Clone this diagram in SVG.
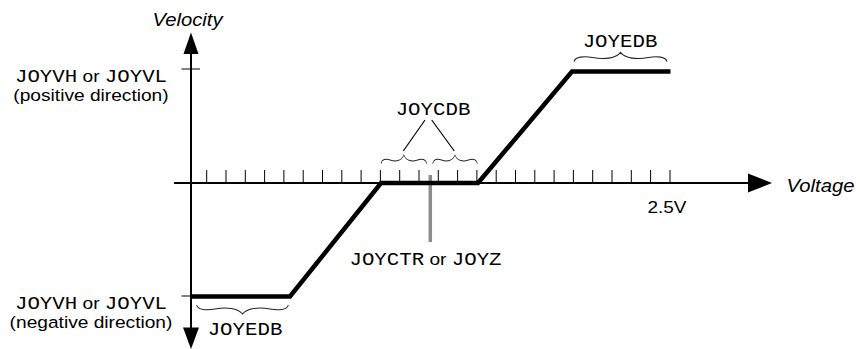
<svg xmlns="http://www.w3.org/2000/svg" width="860" height="349" viewBox="0 0 860 349">
<style>
.sans{font-family:"Liberation Sans",Arial,sans-serif;font-size:16.8px;fill:#000}
.ital{font-family:"Liberation Sans",Arial,sans-serif;font-size:18.6px;font-style:italic;fill:#000}
.mono{font-family:"Liberation Mono","Courier New",monospace;font-size:18.2px;font-weight:normal}
.axis{stroke:#000;stroke-width:2;fill:none}
.tick{stroke:#000;stroke-width:1;fill:none}
.curve{stroke:#000;stroke-width:4.5;fill:none;stroke-linejoin:miter}
.brace{stroke:#222;stroke-width:1.1;fill:none}
.lead{stroke:#000;stroke-width:1.2;fill:none}
.head{fill:#000}
</style>
<defs>
<path id="bracePath" d="M0,0 C1,-5 11,-5.5 20,-4 C32,-2 45,-3 50,-9 C55,-3 68,-2 80,-4 C89,-5.5 99,-5 100,0"/>
</defs>
<g id="axes">
<line class="axis" x1="191" y1="53" x2="191" y2="329"/>
<line class="axis" x1="174" y1="183" x2="750" y2="183"/>
<polygon class="head" points="191,32.5 183.5,54 198.5,54"/>
<polygon class="head" points="191,349 183,327.5 199,327.5"/>
<polygon class="head" points="772,183 748,173.5 748,192.5"/>
<line class="tick" x1="181.5" y1="69" x2="200" y2="69"/>
<line class="tick" x1="181.5" y1="296" x2="191" y2="296"/>
</g>
<g id="ticks">
<path class="tick" d="M206.7,170V182M226,170V182M245.3,170V182M264.6,170V182M283.9,170V182M303.2,170V182M322.5,170V182M341.8,170V182M361.1,170V182M380.4,170V182M399.7,170V182M419,170V182M438.3,170V182M457.6,170V182M476.9,170V182M496.2,170V182M515.5,170V182M534.8,170V182M554.1,170V182M573.4,170V182M592.7,170V182M612,170V182M631.3,170V182M650.6,170V182M670,170V182"/>
</g>
<g id="center-marker">
<line x1="430.3" y1="175" x2="430.3" y2="242" stroke="#8c8c8c" stroke-width="3.5"/>
</g>
<g id="curve">
<polyline class="curve" points="191,296.5 290,296.5 381,183 478,183 572,71.5 670.5,71.5"/>
</g>
<g id="braces">
<use href="#bracePath" class="brace" vector-effect="non-scaling-stroke" transform="translate(381,164) scale(0.457,1)"/>
<use href="#bracePath" class="brace" vector-effect="non-scaling-stroke" transform="translate(432.7,164) scale(0.446,1)"/>
<use href="#bracePath" class="brace" vector-effect="non-scaling-stroke" transform="translate(574,61.7) scale(0.93,1.04)"/>
<use href="#bracePath" class="brace" vector-effect="non-scaling-stroke" transform="translate(196.7,305) scale(0.916,-1)"/>
</g>
<g id="leaders">
<line class="lead" x1="425" y1="120" x2="403.3" y2="151"/>
<line class="lead" x1="431.7" y1="120" x2="454.3" y2="151"/>
</g>
<g id="labels">
<g transform="translate(187.5,26) scale(1.09,1)"><text class="ital" x="0" y="0" text-anchor="middle">Velocity</text></g>
<g transform="translate(786.5,191.5) scale(1.09,1)"><text class="ital" x="0" y="0">Voltage</text></g>
<g transform="translate(667,213) scale(1.13,1)"><text class="sans" x="0" y="0" text-anchor="middle">2.5V</text></g>
<g id="pos-label" transform="translate(91,0) scale(1.14,1)">
<text class="sans" x="0" y="82.5" text-anchor="middle"><tspan class="mono">JOYVH</tspan> or <tspan class="mono">JOYVL</tspan></text>
<text class="sans" x="0" y="101.5" text-anchor="middle">(positive direction)</text>
</g>
<g id="neg-label" transform="translate(91,0) scale(1.14,1)">
<text class="sans" x="0" y="309.5" text-anchor="middle"><tspan class="mono">JOYVH</tspan> or <tspan class="mono">JOYVL</tspan></text>
<text class="sans" x="0" y="328.5" text-anchor="middle">(negative direction)</text>
</g>
<g transform="translate(433,115) scale(1.14,1)"><text class="sans" x="0" y="0" text-anchor="middle"><tspan class="mono">JOYCDB</tspan></text></g>
<g transform="translate(620,47) scale(1.14,1)"><text class="sans" x="0" y="0" text-anchor="middle"><tspan class="mono">JOYEDB</tspan></text></g>
<g transform="translate(245,335) scale(1.14,1)"><text class="sans" x="0" y="0" text-anchor="middle"><tspan class="mono">JOYEDB</tspan></text></g>
<g transform="translate(425.5,265) scale(1.14,1)"><text class="sans" x="0" y="0" text-anchor="middle"><tspan class="mono">JOYCTR</tspan> or <tspan class="mono">JOYZ</tspan></text></g>
</g>
</svg>
